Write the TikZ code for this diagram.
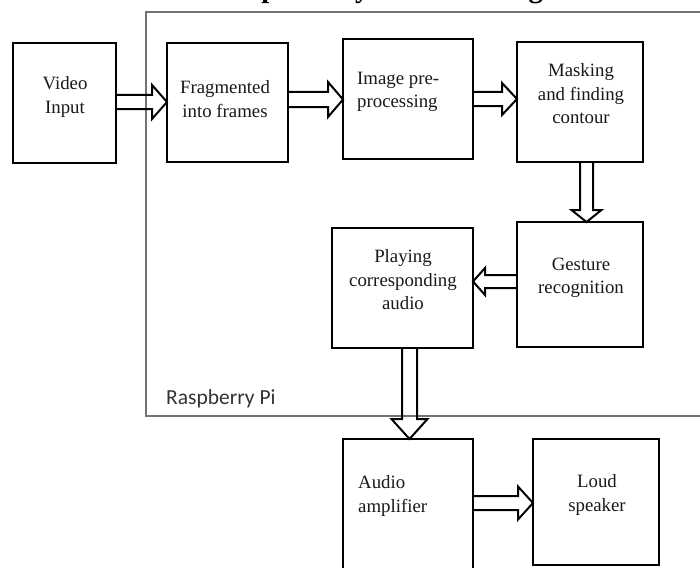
\documentclass[tikz,border=0pt]{standalone}
\usepackage{fontspec}
\setmainfont{Liberation Serif}
\newfontfamily\rpifont{Carlito}
\tikzset{
  box/.style={draw=black, line width=2pt, inner sep=0pt, outer sep=0pt, anchor=north west},
  lbl/.style={font=\fontsize{18.8}{23.5}\selectfont, text=black!90, align=center, inner sep=0pt},
  lbll/.style={lbl, align=left},
  blockarr/.style={draw=black, line width=2pt, line join=miter},
  frame/.style={draw=black!55, line width=1.8pt, inner sep=0pt, outer sep=0pt, anchor=north west},
}
% from, to, position, head length, shaft half width, head half width
\newcommand\arrR[6]{%
  \coordinate (yy) at (0,#3);
  \coordinate (bs) at (#1.east |- yy);
  \coordinate (be) at (#2.west |- yy);
  \draw[blockarr] ([shift={(0,-#5)}]bs) -- ([shift={(-#4,-#5)}]be) -- ([shift={(-#4,-#6)}]be) -- (be)
     -- ([shift={(-#4,#6)}]be) -- ([shift={(-#4,#5)}]be) -- ([shift={(0,#5)}]bs);
}
\newcommand\arrL[6]{%
  \coordinate (yy) at (0,#3);
  \coordinate (bs) at (#1.west |- yy);
  \coordinate (be) at (#2.east |- yy);
  \draw[blockarr] ([shift={(0,-#5)}]bs) -- ([shift={(#4,-#5)}]be) -- ([shift={(#4,-#6)}]be) -- (be)
     -- ([shift={(#4,#6)}]be) -- ([shift={(#4,#5)}]be) -- ([shift={(0,#5)}]bs);
}
\newcommand\arrD[6]{%
  \coordinate (xx) at (#3,0);
  \coordinate (bs) at (#1.south -| xx);
  \coordinate (be) at (#2.north -| xx);
  \draw[blockarr] ([shift={(-#5,0)}]bs) -- ([shift={(-#5,-#4)}]be) -- ([shift={(-#6,-#4)}]be) -- (be)
     -- ([shift={(#6,-#4)}]be) -- ([shift={(#5,-#4)}]be) -- ([shift={(#5,0)}]bs);
}
\begin{document}
\begin{tikzpicture}[x=1pt, y=-1pt]
\useasboundingbox[fill=white] (0,0) rectangle (700,567);
\begin{scope}
\clip (0,0) rectangle (700,567);
% title (only its descenders fall inside the picture)
\node[font=\bfseries\fontsize{28.8}{30}\selectfont, anchor=base west, inner sep=0pt] (title) at (217,-2.5) {Proposed System Working Model};
% Raspberry Pi frame
\node[frame, minimum width=580pt, minimum height=404pt] (rpi) at (146,12) {};
\node[font=\rpifont\fontsize{21.5}{24}\selectfont, text=black!80, anchor=base west, inner sep=0pt] (rpilbl) at (166,404) {Raspberry Pi};
% boxes
\node[box, minimum width=103pt, minimum height=120pt] (video) at (13,43) {};
\node[box, minimum width=121pt, minimum height=119pt] (frag) at (167,43) {};
\node[box, minimum width=130pt, minimum height=120pt] (img) at (343,39) {};
\node[box, minimum width=126pt, minimum height=120pt] (mask) at (517,42) {};
\node[box, minimum width=126pt, minimum height=125pt] (gest) at (517,222) {};
\node[box, minimum width=141pt, minimum height=120pt] (play) at (332,228) {};
\node[box, minimum width=130pt, minimum height=150pt] (amp) at (343,439) {};
\node[box, minimum width=126pt, minimum height=126pt] (loud) at (533,439) {};
% labels
\node[lbl] (tvideo) at (65,97) {Video\\Input};
\node[lbl] (tfrag) at (225,99) {Fragmented\\into frames};
\node[lbll, anchor=west] (timg) at (357,92) {Image pre-\\processing};
\node[lbl] (tmask) at (581,94) {Masking\\and finding\\contour};
\node[lbl] (tgest) at (581,278) {Gesture\\recognition};
\node[lbl] (tplay) at (403,280) {Playing\\corresponding\\audio};
\node[lbll, anchor=west] (tamp) at (358,496) {Audio\\amplifier};
\node[lbl] (tloud) at (597,495) {Loud\\speaker};
% arrows
\arrR{video}{frag}{102}{15}{7}{17}
\arrR{frag}{img}{99.5}{15}{7.5}{17.5}
\arrR{img}{mask}{99}{15}{7}{16}
\arrD{mask}{gest}{586.5}{12}{6.5}{15}
\arrL{gest}{play}{281.5}{12}{6.5}{13.5}
\arrD{play}{amp}{409.5}{20}{7.5}{18}
\arrR{amp}{loud}{503}{15}{7}{16.5}
\end{scope}
\end{tikzpicture}
\end{document}
